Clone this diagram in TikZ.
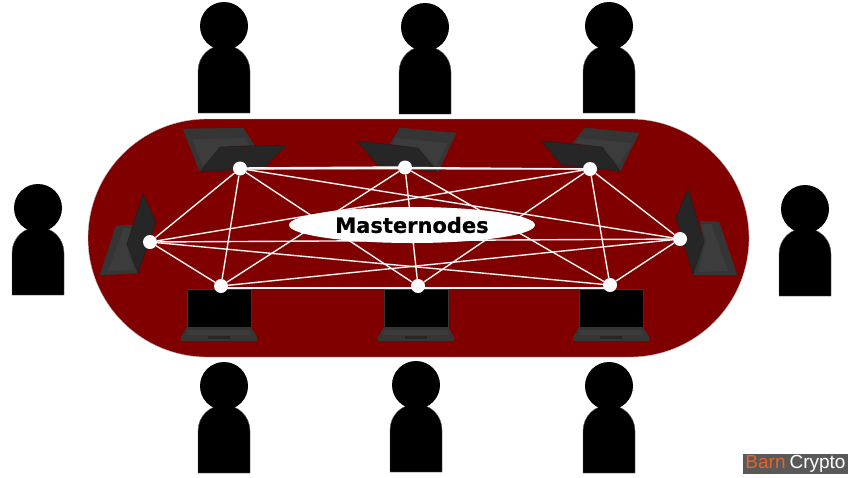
\documentclass[tikz,border=0pt]{standalone}
\usepackage{fontspec}
\setmainfont{Liberation Sans}
\newfontfamily\labelfont[BoldFeatures={FakeBold=0.6}]{DejaVu Sans}
\usetikzlibrary{shapes.geometric}
\definecolor{tablered}{HTML}{800000}
\definecolor{lidgray}{HTML}{262626}
\definecolor{deckgray}{HTML}{353535}
\definecolor{keygray}{HTML}{3C3C3C}
\definecolor{markgray}{HTML}{595959}
\definecolor{markorange}{HTML}{E8622C}
\tikzset{
  dot/.style={circle,fill=white,minimum size=14pt,inner sep=0pt},
  wire/.style={draw=white!96!tablered,line width=1.4pt},
  wirethick/.style={draw=white,line width=2.4pt},
  lid/.style={fill=lidgray,draw=lidgray!80!black,line width=.4pt},
  deck/.style={fill=deckgray,draw=deckgray,line width=.4pt},
  keys/.style={fill=keygray},
  person/.pic={
    \fill[black,draw=black!60,line width=.4pt] (-26,111) -- (-26,69) .. controls (-26,54) and (-14,43) .. (0,43)
      .. controls (14,43) and (26,54) .. (26,69) -- (26,111) -- cycle;
    \fill[black] (0,24) circle (24);
  },
  laptopfront/.pic={
    \fill[black,draw=deckgray,line width=.8pt] (-32,0) rectangle (32,38);
    \fill[deckgray] (-32,38) -- (32,38) -- (38,48) -- (38,51) .. controls (38,52) .. (36,52)
      -- (-36,52) .. controls (-38,52) .. (-38,51) -- (-38,48) -- cycle;
    \fill[keys] (-31,41) -- (31,41) -- (33,46) -- (-33,46) -- cycle;
    \fill[lidgray] (-11,47) rectangle (11,50);
  }
}
\begin{document}
\begin{tikzpicture}[x=1pt,y=-1pt]
\useasboundingbox (0,0) rectangle (850,477);
\fill[white] (0,0) rectangle (850,477);
% table
\fill[tablered,draw=black!25,line width=.4pt,rounded corners=119pt] (88,119) rectangle (749,357);
% people
\foreach \px/\py in {224/2,425/3,609/2,38/184,805/185,224/362,416/361,609/362}
  \pic at (\px,\py) {person};
% rear laptops
\fill[deck] (183,129) -- (243,128) -- (254,145) -- (220,147) -- (200,172) -- cycle;
\fill[keys] (192,139) -- (246,138) -- (250,145) -- (220,147) -- (203,166) -- cycle;
\fill[lid] (220,147) -- (286,145) -- (264,168) -- (200,172) -- cycle;
\fill[deck] (400,128) -- (456,133) -- (438,172) -- (418,148) -- (390,144) -- cycle;
\fill[keys] (396,138) -- (448,143) -- (436,166) -- (418,148) -- (392,144) -- cycle;
\fill[lid] (357,141) -- (418,148) -- (437,172) -- (378,165) -- cycle;
\fill[deck] (585,128) -- (639,133) -- (620,171) -- (602,147) -- (573,143) -- cycle;
\fill[keys] (580,138) -- (632,143) -- (619,165) -- (602,147) -- (576,143) -- cycle;
\fill[lid] (541,141) -- (602,147) -- (620,171) -- (562,165) -- cycle;
% side laptops
\fill[deck] (116,226) -- (134,225) -- (127,244) -- (138,273) -- (100,275) -- cycle;
\fill[keys] (124,228) -- (132,228) -- (126,244) -- (134,270) -- (108,271) -- cycle;
\fill[lid] (143,194) -- (156,222) -- (138,273) -- (127,244) -- cycle;
\fill[deck] (700,221) -- (719,222) -- (737,275) -- (693,275) -- (704,242) -- cycle;
\fill[keys] (702,224) -- (711,224) -- (728,271) -- (698,272) -- (706,242) -- cycle;
\fill[lid] (688,189) -- (676,218) -- (693,274) -- (704,242) -- cycle;
% front laptops
\foreach \lx in {219,416,611}
  \pic at (\lx,289) {laptopfront};
% graph nodes
\node[dot] (a) at (240,168.5) {};
\node[dot] (b) at (405,167.5) {};
\node[dot] (c) at (590,169) {};
\node[dot] (d) at (150,242) {};
\node[dot] (e) at (680,239) {};
\node[dot] (f) at (221,286) {};
\node[dot] (g) at (418,286) {};
\node[dot] (h) at (610,285) {};
% connectors
\draw[wirethick] (a) -- (b);
\foreach \s/\t in {a/c,a/d,a/f,a/g,a/e,b/c,b/f,b/g,b/h,c/d,c/e,c/g,c/h,
                   d/e,d/f,d/h,e/f,e/h}
  \draw[wire] (\s) -- (\t);
\draw[wire] ([yshift=-2pt]f.center) -- ([yshift=-3pt]h.center);
% label
\node[ellipse,fill=white,minimum width=246pt,minimum height=36pt,inner sep=0pt,
      font=\labelfont\bfseries\fontsize{21}{24}\selectfont] (label) at (412,225) {Masternodes};
% watermark
\node[fill=markgray,minimum width=105pt,minimum height=20pt,inner sep=0pt,
      font=\fontsize{19}{20}\selectfont,text=white] (mark) at (795.5,464) {\textcolor{markorange}{Barn}\hspace{4pt}Crypto};
\end{tikzpicture}
\end{document}
